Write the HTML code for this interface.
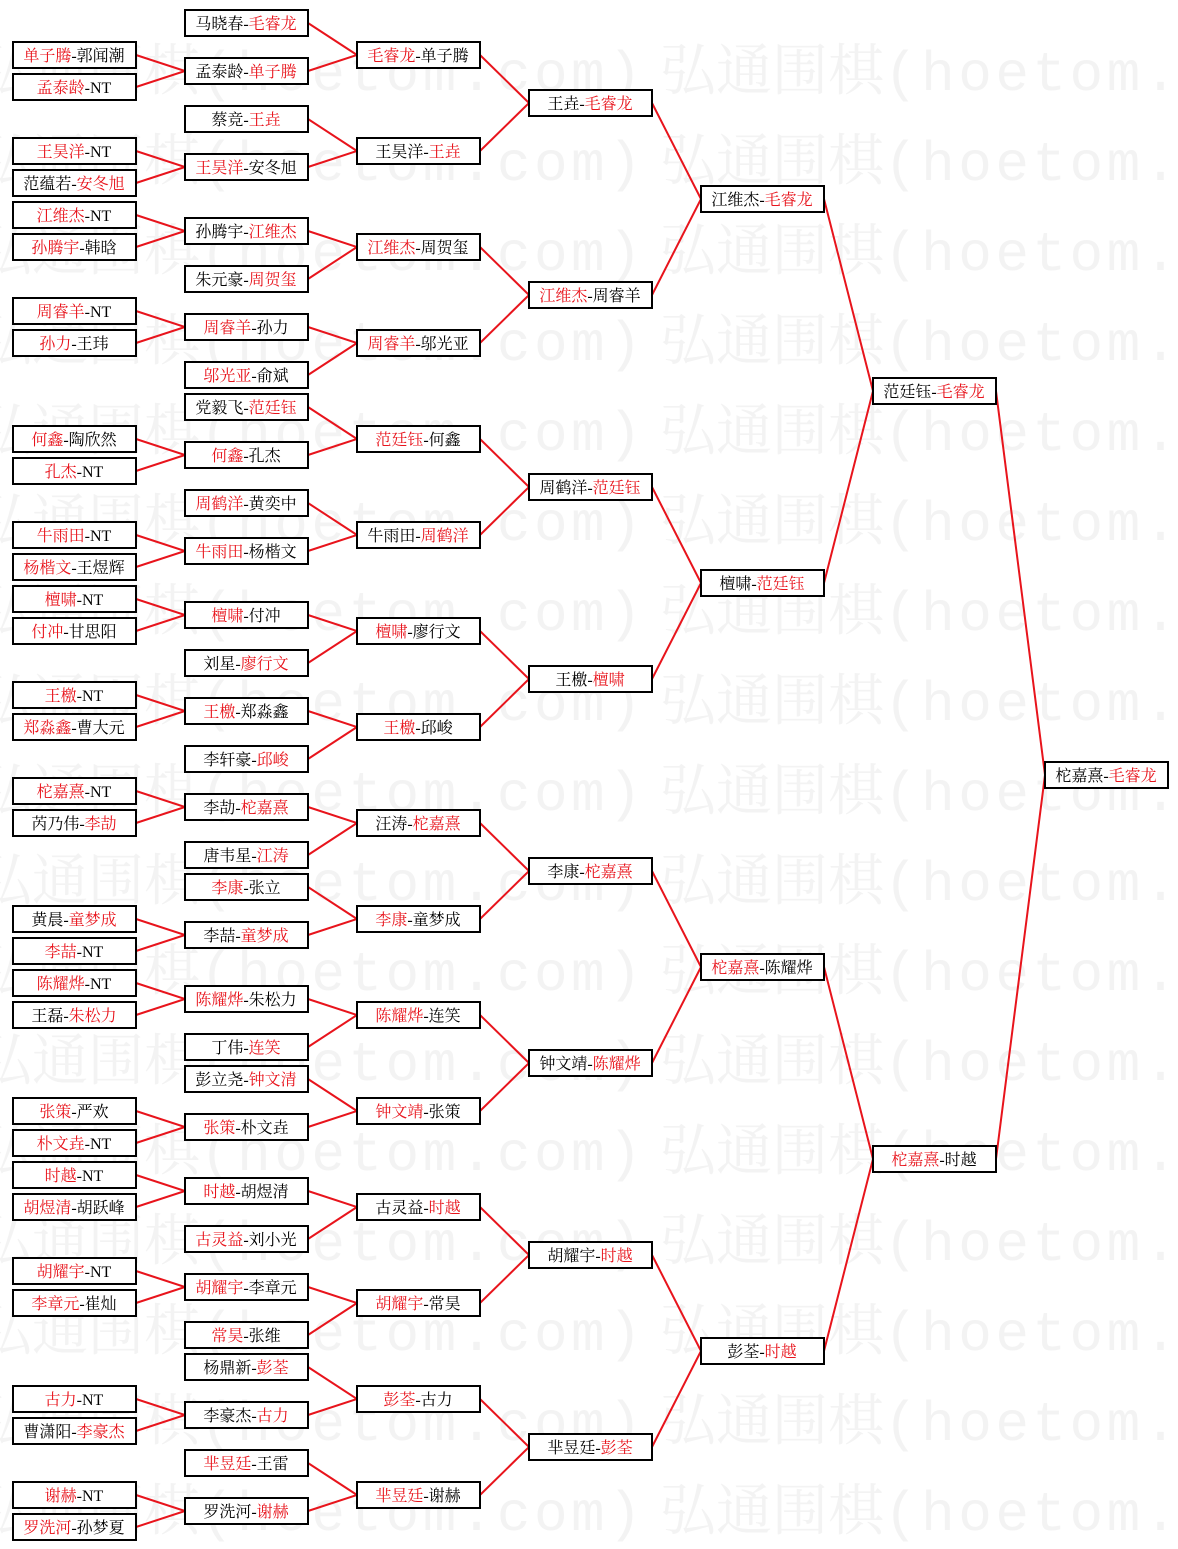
<!DOCTYPE html>
<html><head><meta charset="utf-8"><style>
html,body{margin:0;padding:0;background:#fff}
svg{display:block}
.b text{font-family:"Liberation Serif","Noto Serif CJK SC",serif;font-size:16px}
.b rect{fill:#fff;stroke:#000;stroke-width:2}
.r{fill:#e8141c}
.wm text{font-family:"Liberation Mono","Noto Serif CJK SC",monospace;font-size:56px;fill:#f3f3f3}
.wm tspan{letter-spacing:3.5px}
</style></head><body>
<svg width="1178" height="1549" viewBox="0 0 1178 1549" xmlns="http://www.w3.org/2000/svg">
<g class="wm">
<text x="-24" y="90">弘通围棋<tspan>(hoetom.com)</tspan></text><text x="660" y="90">弘通围棋<tspan>(hoetom.com)</tspan></text>
<text x="-24" y="180">弘通围棋<tspan>(hoetom.com)</tspan></text><text x="660" y="180">弘通围棋<tspan>(hoetom.com)</tspan></text>
<text x="-24" y="270">弘通围棋<tspan>(hoetom.com)</tspan></text><text x="660" y="270">弘通围棋<tspan>(hoetom.com)</tspan></text>
<text x="-24" y="360">弘通围棋<tspan>(hoetom.com)</tspan></text><text x="660" y="360">弘通围棋<tspan>(hoetom.com)</tspan></text>
<text x="-24" y="450">弘通围棋<tspan>(hoetom.com)</tspan></text><text x="660" y="450">弘通围棋<tspan>(hoetom.com)</tspan></text>
<text x="-24" y="540">弘通围棋<tspan>(hoetom.com)</tspan></text><text x="660" y="540">弘通围棋<tspan>(hoetom.com)</tspan></text>
<text x="-24" y="630">弘通围棋<tspan>(hoetom.com)</tspan></text><text x="660" y="630">弘通围棋<tspan>(hoetom.com)</tspan></text>
<text x="-24" y="720">弘通围棋<tspan>(hoetom.com)</tspan></text><text x="660" y="720">弘通围棋<tspan>(hoetom.com)</tspan></text>
<text x="-24" y="810">弘通围棋<tspan>(hoetom.com)</tspan></text><text x="660" y="810">弘通围棋<tspan>(hoetom.com)</tspan></text>
<text x="-24" y="900">弘通围棋<tspan>(hoetom.com)</tspan></text><text x="660" y="900">弘通围棋<tspan>(hoetom.com)</tspan></text>
<text x="-24" y="990">弘通围棋<tspan>(hoetom.com)</tspan></text><text x="660" y="990">弘通围棋<tspan>(hoetom.com)</tspan></text>
<text x="-24" y="1080">弘通围棋<tspan>(hoetom.com)</tspan></text><text x="660" y="1080">弘通围棋<tspan>(hoetom.com)</tspan></text>
<text x="-24" y="1170">弘通围棋<tspan>(hoetom.com)</tspan></text><text x="660" y="1170">弘通围棋<tspan>(hoetom.com)</tspan></text>
<text x="-24" y="1260">弘通围棋<tspan>(hoetom.com)</tspan></text><text x="660" y="1260">弘通围棋<tspan>(hoetom.com)</tspan></text>
<text x="-24" y="1350">弘通围棋<tspan>(hoetom.com)</tspan></text><text x="660" y="1350">弘通围棋<tspan>(hoetom.com)</tspan></text>
<text x="-24" y="1440">弘通围棋<tspan>(hoetom.com)</tspan></text><text x="660" y="1440">弘通围棋<tspan>(hoetom.com)</tspan></text>
<text x="-24" y="1530">弘通围棋<tspan>(hoetom.com)</tspan></text><text x="660" y="1530">弘通围棋<tspan>(hoetom.com)</tspan></text>
</g>
<g transform="translate(0,1)">
<path fill="none" stroke="#e8141c" stroke-width="2" d="
M136 54L185 70L136 86 M136 150L185 166L136 182 M136 214L185 230L136 246 M136 310L185 326L136 342
M136 438L185 454L136 470 M136 534L185 550L136 566 M136 598L185 614L136 630 M136 694L185 710L136 726
M136 790L185 806L136 822 M136 918L185 934L136 950 M136 982L185 998L136 1014 M136 1110L185 1126L136 1142
M136 1174L185 1190L136 1206 M136 1270L185 1286L136 1302 M136 1398L185 1414L136 1430 M136 1494L185 1510L136 1526
M308 22L357 54L308 70 M308 118L357 150L308 166 M308 230L357 246L308 278 M308 326L357 342L308 374
M308 406L357 438L308 454 M308 502L357 534L308 550 M308 614L357 630L308 662 M308 710L357 726L308 758
M308 806L357 822L308 854 M308 886L357 918L308 934 M308 998L357 1014L308 1046 M308 1078L357 1110L308 1126
M308 1190L357 1206L308 1238 M308 1286L357 1302L308 1334 M308 1366L357 1398L308 1414 M308 1462L357 1494L308 1510
M480 54L529 102L480 150 M480 246L529 294L480 342 M480 438L529 486L480 534 M480 630L529 678L480 726
M480 822L529 870L480 918 M480 1014L529 1062L480 1110 M480 1206L529 1254L480 1302 M480 1398L529 1446L480 1494
M652 102L701 198L652 294 M652 486L701 582L652 678 M652 870L701 966L652 1062 M652 1254L701 1350L652 1446
M824 198L873 390L824 582 M824 966L873 1158L824 1350
M996 390L1045 774L996 1158"/>
<g class="b">
<rect x="13" y="41" width="123" height="26"/><text x="74" y="60" text-anchor="middle"><tspan class="r">单子腾</tspan>-郭闻潮</text>
<rect x="13" y="73" width="123" height="26"/><text x="74" y="92" text-anchor="middle"><tspan class="r">孟泰龄</tspan>-NT</text>
<rect x="13" y="137" width="123" height="26"/><text x="74" y="156" text-anchor="middle"><tspan class="r">王昊洋</tspan>-NT</text>
<rect x="13" y="169" width="123" height="26"/><text x="74" y="188" text-anchor="middle">范蕴若-<tspan class="r">安冬旭</tspan></text>
<rect x="13" y="201" width="123" height="26"/><text x="74" y="220" text-anchor="middle"><tspan class="r">江维杰</tspan>-NT</text>
<rect x="13" y="233" width="123" height="26"/><text x="74" y="252" text-anchor="middle"><tspan class="r">孙腾宇</tspan>-韩晗</text>
<rect x="13" y="297" width="123" height="26"/><text x="74" y="316" text-anchor="middle"><tspan class="r">周睿羊</tspan>-NT</text>
<rect x="13" y="329" width="123" height="26"/><text x="74" y="348" text-anchor="middle"><tspan class="r">孙力</tspan>-王玮</text>
<rect x="13" y="425" width="123" height="26"/><text x="74" y="444" text-anchor="middle"><tspan class="r">何鑫</tspan>-陶欣然</text>
<rect x="13" y="457" width="123" height="26"/><text x="74" y="476" text-anchor="middle"><tspan class="r">孔杰</tspan>-NT</text>
<rect x="13" y="521" width="123" height="26"/><text x="74" y="540" text-anchor="middle"><tspan class="r">牛雨田</tspan>-NT</text>
<rect x="13" y="553" width="123" height="26"/><text x="74" y="572" text-anchor="middle"><tspan class="r">杨楷文</tspan>-王煜辉</text>
<rect x="13" y="585" width="123" height="26"/><text x="74" y="604" text-anchor="middle"><tspan class="r">檀啸</tspan>-NT</text>
<rect x="13" y="617" width="123" height="26"/><text x="74" y="636" text-anchor="middle"><tspan class="r">付冲</tspan>-甘思阳</text>
<rect x="13" y="681" width="123" height="26"/><text x="74" y="700" text-anchor="middle"><tspan class="r">王檄</tspan>-NT</text>
<rect x="13" y="713" width="123" height="26"/><text x="74" y="732" text-anchor="middle"><tspan class="r">郑淼鑫</tspan>-曹大元</text>
<rect x="13" y="777" width="123" height="26"/><text x="74" y="796" text-anchor="middle"><tspan class="r">柁嘉熹</tspan>-NT</text>
<rect x="13" y="809" width="123" height="26"/><text x="74" y="828" text-anchor="middle">芮乃伟-<tspan class="r">李劼</tspan></text>
<rect x="13" y="905" width="123" height="26"/><text x="74" y="924" text-anchor="middle">黄晨-<tspan class="r">童梦成</tspan></text>
<rect x="13" y="937" width="123" height="26"/><text x="74" y="956" text-anchor="middle"><tspan class="r">李喆</tspan>-NT</text>
<rect x="13" y="969" width="123" height="26"/><text x="74" y="988" text-anchor="middle"><tspan class="r">陈耀烨</tspan>-NT</text>
<rect x="13" y="1001" width="123" height="26"/><text x="74" y="1020" text-anchor="middle">王磊-<tspan class="r">朱松力</tspan></text>
<rect x="13" y="1097" width="123" height="26"/><text x="74" y="1116" text-anchor="middle"><tspan class="r">张策</tspan>-严欢</text>
<rect x="13" y="1129" width="123" height="26"/><text x="74" y="1148" text-anchor="middle"><tspan class="r">朴文垚</tspan>-NT</text>
<rect x="13" y="1161" width="123" height="26"/><text x="74" y="1180" text-anchor="middle"><tspan class="r">时越</tspan>-NT</text>
<rect x="13" y="1193" width="123" height="26"/><text x="74" y="1212" text-anchor="middle"><tspan class="r">胡煜清</tspan>-胡跃峰</text>
<rect x="13" y="1257" width="123" height="26"/><text x="74" y="1276" text-anchor="middle"><tspan class="r">胡耀宇</tspan>-NT</text>
<rect x="13" y="1289" width="123" height="26"/><text x="74" y="1308" text-anchor="middle"><tspan class="r">李章元</tspan>-崔灿</text>
<rect x="13" y="1385" width="123" height="26"/><text x="74" y="1404" text-anchor="middle"><tspan class="r">古力</tspan>-NT</text>
<rect x="13" y="1417" width="123" height="26"/><text x="74" y="1436" text-anchor="middle">曹潇阳-<tspan class="r">李豪杰</tspan></text>
<rect x="13" y="1481" width="123" height="26"/><text x="74" y="1500" text-anchor="middle"><tspan class="r">谢赫</tspan>-NT</text>
<rect x="13" y="1513" width="123" height="26"/><text x="74" y="1532" text-anchor="middle"><tspan class="r">罗洗河</tspan>-孙梦夏</text>
<rect x="185" y="9" width="123" height="26"/><text x="246" y="28" text-anchor="middle">马晓春-<tspan class="r">毛睿龙</tspan></text>
<rect x="185" y="57" width="123" height="26"/><text x="246" y="76" text-anchor="middle">孟泰龄-<tspan class="r">单子腾</tspan></text>
<rect x="185" y="105" width="123" height="26"/><text x="246" y="124" text-anchor="middle">蔡竞-<tspan class="r">王垚</tspan></text>
<rect x="185" y="153" width="123" height="26"/><text x="246" y="172" text-anchor="middle"><tspan class="r">王昊洋</tspan>-安冬旭</text>
<rect x="185" y="217" width="123" height="26"/><text x="246" y="236" text-anchor="middle">孙腾宇-<tspan class="r">江维杰</tspan></text>
<rect x="185" y="265" width="123" height="26"/><text x="246" y="284" text-anchor="middle">朱元豪-<tspan class="r">周贺玺</tspan></text>
<rect x="185" y="313" width="123" height="26"/><text x="246" y="332" text-anchor="middle"><tspan class="r">周睿羊</tspan>-孙力</text>
<rect x="185" y="361" width="123" height="26"/><text x="246" y="380" text-anchor="middle"><tspan class="r">邬光亚</tspan>-俞斌</text>
<rect x="185" y="393" width="123" height="26"/><text x="246" y="412" text-anchor="middle">党毅飞-<tspan class="r">范廷钰</tspan></text>
<rect x="185" y="441" width="123" height="26"/><text x="246" y="460" text-anchor="middle"><tspan class="r">何鑫</tspan>-孔杰</text>
<rect x="185" y="489" width="123" height="26"/><text x="246" y="508" text-anchor="middle"><tspan class="r">周鹤洋</tspan>-黄奕中</text>
<rect x="185" y="537" width="123" height="26"/><text x="246" y="556" text-anchor="middle"><tspan class="r">牛雨田</tspan>-杨楷文</text>
<rect x="185" y="601" width="123" height="26"/><text x="246" y="620" text-anchor="middle"><tspan class="r">檀啸</tspan>-付冲</text>
<rect x="185" y="649" width="123" height="26"/><text x="246" y="668" text-anchor="middle">刘星-<tspan class="r">廖行文</tspan></text>
<rect x="185" y="697" width="123" height="26"/><text x="246" y="716" text-anchor="middle"><tspan class="r">王檄</tspan>-郑淼鑫</text>
<rect x="185" y="745" width="123" height="26"/><text x="246" y="764" text-anchor="middle">李轩豪-<tspan class="r">邱峻</tspan></text>
<rect x="185" y="793" width="123" height="26"/><text x="246" y="812" text-anchor="middle">李劼-<tspan class="r">柁嘉熹</tspan></text>
<rect x="185" y="841" width="123" height="26"/><text x="246" y="860" text-anchor="middle">唐韦星-<tspan class="r">江涛</tspan></text>
<rect x="185" y="873" width="123" height="26"/><text x="246" y="892" text-anchor="middle"><tspan class="r">李康</tspan>-张立</text>
<rect x="185" y="921" width="123" height="26"/><text x="246" y="940" text-anchor="middle">李喆-<tspan class="r">童梦成</tspan></text>
<rect x="185" y="985" width="123" height="26"/><text x="246" y="1004" text-anchor="middle"><tspan class="r">陈耀烨</tspan>-朱松力</text>
<rect x="185" y="1033" width="123" height="26"/><text x="246" y="1052" text-anchor="middle">丁伟-<tspan class="r">连笑</tspan></text>
<rect x="185" y="1065" width="123" height="26"/><text x="246" y="1084" text-anchor="middle">彭立尧-<tspan class="r">钟文清</tspan></text>
<rect x="185" y="1113" width="123" height="26"/><text x="246" y="1132" text-anchor="middle"><tspan class="r">张策</tspan>-朴文垚</text>
<rect x="185" y="1177" width="123" height="26"/><text x="246" y="1196" text-anchor="middle"><tspan class="r">时越</tspan>-胡煜清</text>
<rect x="185" y="1225" width="123" height="26"/><text x="246" y="1244" text-anchor="middle"><tspan class="r">古灵益</tspan>-刘小光</text>
<rect x="185" y="1273" width="123" height="26"/><text x="246" y="1292" text-anchor="middle"><tspan class="r">胡耀宇</tspan>-李章元</text>
<rect x="185" y="1321" width="123" height="26"/><text x="246" y="1340" text-anchor="middle"><tspan class="r">常昊</tspan>-张维</text>
<rect x="185" y="1353" width="123" height="26"/><text x="246" y="1372" text-anchor="middle">杨鼎新-<tspan class="r">彭荃</tspan></text>
<rect x="185" y="1401" width="123" height="26"/><text x="246" y="1420" text-anchor="middle">李豪杰-<tspan class="r">古力</tspan></text>
<rect x="185" y="1449" width="123" height="26"/><text x="246" y="1468" text-anchor="middle"><tspan class="r">芈昱廷</tspan>-王雷</text>
<rect x="185" y="1497" width="123" height="26"/><text x="246" y="1516" text-anchor="middle">罗洗河-<tspan class="r">谢赫</tspan></text>
<rect x="357" y="41" width="123" height="26"/><text x="418" y="60" text-anchor="middle"><tspan class="r">毛睿龙</tspan>-单子腾</text>
<rect x="357" y="137" width="123" height="26"/><text x="418" y="156" text-anchor="middle">王昊洋-<tspan class="r">王垚</tspan></text>
<rect x="357" y="233" width="123" height="26"/><text x="418" y="252" text-anchor="middle"><tspan class="r">江维杰</tspan>-周贺玺</text>
<rect x="357" y="329" width="123" height="26"/><text x="418" y="348" text-anchor="middle"><tspan class="r">周睿羊</tspan>-邬光亚</text>
<rect x="357" y="425" width="123" height="26"/><text x="418" y="444" text-anchor="middle"><tspan class="r">范廷钰</tspan>-何鑫</text>
<rect x="357" y="521" width="123" height="26"/><text x="418" y="540" text-anchor="middle">牛雨田-<tspan class="r">周鹤洋</tspan></text>
<rect x="357" y="617" width="123" height="26"/><text x="418" y="636" text-anchor="middle"><tspan class="r">檀啸</tspan>-廖行文</text>
<rect x="357" y="713" width="123" height="26"/><text x="418" y="732" text-anchor="middle"><tspan class="r">王檄</tspan>-邱峻</text>
<rect x="357" y="809" width="123" height="26"/><text x="418" y="828" text-anchor="middle">汪涛-<tspan class="r">柁嘉熹</tspan></text>
<rect x="357" y="905" width="123" height="26"/><text x="418" y="924" text-anchor="middle"><tspan class="r">李康</tspan>-童梦成</text>
<rect x="357" y="1001" width="123" height="26"/><text x="418" y="1020" text-anchor="middle"><tspan class="r">陈耀烨</tspan>-连笑</text>
<rect x="357" y="1097" width="123" height="26"/><text x="418" y="1116" text-anchor="middle"><tspan class="r">钟文靖</tspan>-张策</text>
<rect x="357" y="1193" width="123" height="26"/><text x="418" y="1212" text-anchor="middle">古灵益-<tspan class="r">时越</tspan></text>
<rect x="357" y="1289" width="123" height="26"/><text x="418" y="1308" text-anchor="middle"><tspan class="r">胡耀宇</tspan>-常昊</text>
<rect x="357" y="1385" width="123" height="26"/><text x="418" y="1404" text-anchor="middle"><tspan class="r">彭荃</tspan>-古力</text>
<rect x="357" y="1481" width="123" height="26"/><text x="418" y="1500" text-anchor="middle"><tspan class="r">芈昱廷</tspan>-谢赫</text>
<rect x="529" y="89" width="123" height="26"/><text x="590" y="108" text-anchor="middle">王垚-<tspan class="r">毛睿龙</tspan></text>
<rect x="529" y="281" width="123" height="26"/><text x="590" y="300" text-anchor="middle"><tspan class="r">江维杰</tspan>-周睿羊</text>
<rect x="529" y="473" width="123" height="26"/><text x="590" y="492" text-anchor="middle">周鹤洋-<tspan class="r">范廷钰</tspan></text>
<rect x="529" y="665" width="123" height="26"/><text x="590" y="684" text-anchor="middle">王檄-<tspan class="r">檀啸</tspan></text>
<rect x="529" y="857" width="123" height="26"/><text x="590" y="876" text-anchor="middle">李康-<tspan class="r">柁嘉熹</tspan></text>
<rect x="529" y="1049" width="123" height="26"/><text x="590" y="1068" text-anchor="middle">钟文靖-<tspan class="r">陈耀烨</tspan></text>
<rect x="529" y="1241" width="123" height="26"/><text x="590" y="1260" text-anchor="middle">胡耀宇-<tspan class="r">时越</tspan></text>
<rect x="529" y="1433" width="123" height="26"/><text x="590" y="1452" text-anchor="middle">芈昱廷-<tspan class="r">彭荃</tspan></text>
<rect x="701" y="185" width="123" height="26"/><text x="762" y="204" text-anchor="middle">江维杰-<tspan class="r">毛睿龙</tspan></text>
<rect x="701" y="569" width="123" height="26"/><text x="762" y="588" text-anchor="middle">檀啸-<tspan class="r">范廷钰</tspan></text>
<rect x="701" y="953" width="123" height="26"/><text x="762" y="972" text-anchor="middle"><tspan class="r">柁嘉熹</tspan>-陈耀烨</text>
<rect x="701" y="1337" width="123" height="26"/><text x="762" y="1356" text-anchor="middle">彭荃-<tspan class="r">时越</tspan></text>
<rect x="873" y="377" width="123" height="26"/><text x="934" y="396" text-anchor="middle">范廷钰-<tspan class="r">毛睿龙</tspan></text>
<rect x="873" y="1145" width="123" height="26"/><text x="934" y="1164" text-anchor="middle"><tspan class="r">柁嘉熹</tspan>-时越</text>
<rect x="1045" y="761" width="123" height="26"/><text x="1106" y="780" text-anchor="middle">柁嘉熹-<tspan class="r">毛睿龙</tspan></text>
</g>
</g>
</svg>
</body></html>
